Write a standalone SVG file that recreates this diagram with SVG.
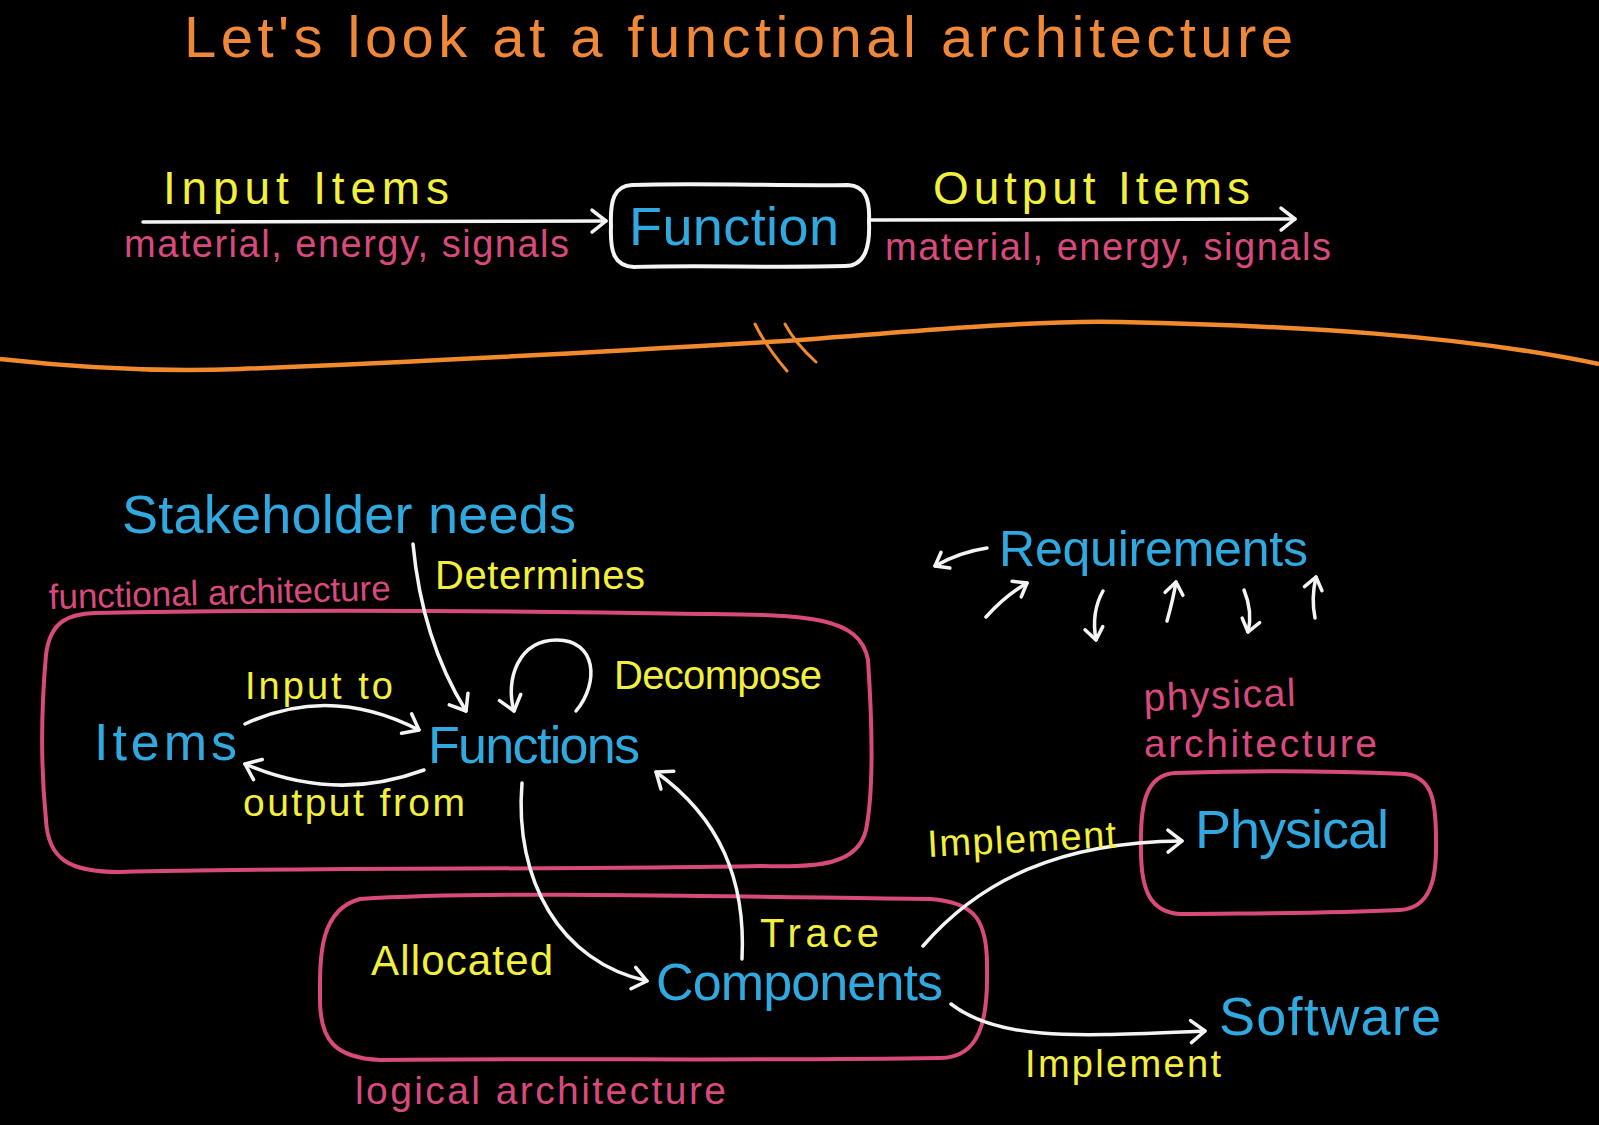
<svg xmlns="http://www.w3.org/2000/svg" width="1599" height="1125" viewBox="0 0 1599 1125">
<defs>
<style>
text{font-family:"Liberation Sans","DejaVu Sans",sans-serif;}
.t{fill:#f0883a}
.y{fill:#f2f03c}
.b{fill:#2fa9e0}
.p{fill:#d94a7c}
.box{fill:none;stroke-width:4;stroke-linejoin:round;stroke-linecap:round}
.pk{stroke:#d94a7c}
.wh{stroke:#f4f4f4}
.c{fill:none;stroke:#f4f4f4;stroke-width:3.5;stroke-linecap:round;marker-end:url(#ah)}
.cs{fill:none;stroke:#f4f4f4;stroke-width:3.5;stroke-linecap:round;marker-end:url(#as)}
</style>
<marker id="ah" markerUnits="userSpaceOnUse" markerWidth="24" markerHeight="28" viewBox="0 0 24 28" refX="20" refY="14" orient="auto">
<path d="M6,3 L20,14 L6,25" fill="none" stroke="#f4f4f4" stroke-width="3.5" stroke-linecap="round" stroke-linejoin="round"/>
</marker>
<marker id="as" markerUnits="userSpaceOnUse" markerWidth="20" markerHeight="24" viewBox="0 0 20 24" refX="17" refY="12" orient="auto">
<path d="M5,3 L17,12 L5,21" fill="none" stroke="#f4f4f4" stroke-width="3.5" stroke-linecap="round" stroke-linejoin="round"/>
</marker>
</defs>
<rect x="0" y="0" width="1599" height="1125" fill="#000"/>

<text class="t" x="184" y="57" font-size="58" textLength="1109" lengthAdjust="spacing">Let's look at a functional architecture</text>

<g id="divider">
<path d="M0,359 C80,368 160,372 240,369 C420,362 600,352 800,340 C950,328 1050,320 1120,322 C1300,326 1460,335 1599,364" fill="none" stroke="#f08a2c" stroke-width="4.5"/>
<path d="M755,324 Q765,345 787,371" fill="none" stroke="#f08a2c" stroke-width="3" stroke-linecap="round"/>
<path d="M785,324 Q795,343 816,362" fill="none" stroke="#f08a2c" stroke-width="3" stroke-linecap="round"/>
</g>

<g id="top-input">
<text class="y" x="163" y="204" font-size="46" textLength="286" lengthAdjust="spacing">Input Items</text>
<text class="p" x="124" y="257" font-size="38" textLength="445" lengthAdjust="spacing">material, energy, signals</text>
</g>
<g id="function">
<path class="box wh" d="M632,185 C700,183 780,186 848,185 C866,186 870,200 869,222 C870,245 866,266 845,266 C770,268 700,265 634,267 C614,266 610,252 611,226 C610,200 614,186 632,185 Z"/>
<text class="b" x="629" y="245" font-size="54" textLength="210" lengthAdjust="spacing">Function</text>
</g>
<g id="top-output">
<text class="y" x="933" y="204" font-size="46" textLength="317" lengthAdjust="spacing">Output Items</text>
<text class="p" x="885" y="260" font-size="38" textLength="446" lengthAdjust="spacing">material, energy, signals</text>
</g>

<g id="stakeholder">
<text class="b" x="122" y="533" font-size="54" textLength="454" lengthAdjust="spacing">Stakeholder needs</text>
</g>

<g id="functional-architecture">
<path class="box pk" d="M95,613 C300,609 520,611 700,614 C800,615 860,614 868,660 C872,720 874,790 866,830 C858,864 820,868 760,866 C560,870 320,867 120,872 C70,872 48,860 46,820 C40,760 42,700 46,655 C50,620 70,614 95,613 Z"/>
<text class="p" x="49" y="609" font-size="35" textLength="342" lengthAdjust="spacing" transform="rotate(-1.5 49 609)">functional architecture</text>
</g>
<g id="items"><text class="b" x="94" y="760" font-size="52" textLength="143" lengthAdjust="spacing">Items</text></g>
<g id="functions"><text class="b" x="428" y="763" font-size="52" textLength="212" lengthAdjust="spacing">Functions</text></g>

<g id="logical-architecture">
<path class="box pk" d="M360,899 C480,891 700,896 930,899 C975,902 988,920 987,970 C988,1020 980,1058 940,1058 C760,1061 560,1058 380,1060 C335,1058 320,1040 320,1000 C320,960 318,910 360,899 Z"/>
<text class="p" x="355" y="1104" font-size="39" textLength="371" lengthAdjust="spacing">logical architecture</text>
</g>
<g id="components"><text class="b" x="656" y="1000" font-size="52" textLength="287" lengthAdjust="spacing">Components</text></g>

<g id="physical-architecture">
<path class="box pk" d="M1175,773 C1260,770 1340,771 1405,774 C1432,777 1436,800 1436,840 C1437,880 1430,908 1400,910 C1320,914 1240,913 1180,914 C1150,912 1141,890 1141,850 C1140,805 1145,775 1175,773 Z"/>
<text class="p" x="1144" y="711" font-size="39" textLength="152" lengthAdjust="spacing" transform="rotate(-2 1144 711)">physical</text>
<text class="p" x="1144" y="757" font-size="39" textLength="233" lengthAdjust="spacing">architecture</text>
<text class="b" x="1195" y="848" font-size="54" textLength="194" lengthAdjust="spacing">Physical</text>
</g>
<g id="software"><text class="b" x="1219" y="1035" font-size="54" textLength="222" lengthAdjust="spacing">Software</text></g>
<g id="requirements"><text class="b" x="999" y="566" font-size="50" textLength="309" lengthAdjust="spacing">Requirements</text></g>

<g id="connectors">
<path class="c" d="M143,222 L606,221"/>
<path class="c" d="M869,220 L1295,219"/>
<path class="c" d="M413,544 Q422,640 466,711"/>
<path class="c" d="M245,724 Q330,684 419,730"/>
<path class="c" d="M424,770 Q335,803 245,764"/>
<path class="c" d="M576,711 C600,682 596,640 557,640 C518,640 505,680 514,711"/>
<path class="c" d="M522,783 C514,880 560,962 647,981"/>
<path class="c" d="M742,959 C746,880 720,818 656,772"/>
<path class="c" d="M923,946 C980,880 1060,842 1182,841"/>
<path class="c" d="M951,1004 C1000,1042 1080,1036 1205,1031"/>
<path class="cs" d="M987,548 Q960,552 935,566"/>
<path class="cs" d="M986,617 Q1005,596 1027,583"/>
<path class="cs" d="M1103,591 Q1091,612 1096,640"/>
<path class="cs" d="M1167,621 Q1173,600 1176,582"/>
<path class="cs" d="M1244,590 Q1253,612 1248,632"/>
<path class="cs" d="M1315,618 Q1311,598 1316,577"/>
</g>

<g id="labels">
<text class="y" x="435" y="589" font-size="40" textLength="210" lengthAdjust="spacing">Determines</text>
<text class="y" x="245" y="699" font-size="38" textLength="148" lengthAdjust="spacing">Input to</text>
<text class="y" x="243" y="816" font-size="39" textLength="222" lengthAdjust="spacing">output from</text>
<text class="y" x="614" y="689" font-size="40" textLength="208" lengthAdjust="spacing">Decompose</text>
<text class="y" x="760" y="947" font-size="40" textLength="119" lengthAdjust="spacing">Trace</text>
<text class="y" x="371" y="975" font-size="42" textLength="182" lengthAdjust="spacing">Allocated</text>
<text class="y" x="928" y="857" font-size="38" textLength="189" lengthAdjust="spacing" transform="rotate(-3 928 857)">Implement</text>
<text class="y" x="1025" y="1077" font-size="38" textLength="196" lengthAdjust="spacing">Implement</text>
</g>
</svg>
